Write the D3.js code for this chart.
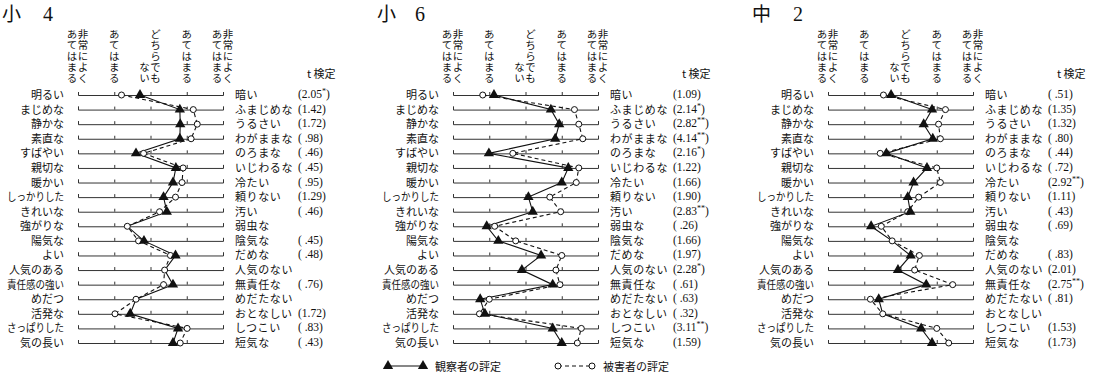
<!DOCTYPE html>
<html><head><meta charset="utf-8">
<script src="https://cdn.jsdelivr.net/npm/d3@7"></script>
<style>
body{margin:0;background:#fff}
svg text{font-family:"Liberation Serif","Noto Sans CJK JP",serif;fill:#111}
</style></head><body><svg id="chart" width="1108" height="380"></svg>
<script>
// Semantic differential profiles: observer vs. victim ratings, three grades
const leftAdj = ["明るい","まじめな","静かな","素直な","すばやい","親切な","暖かい","しっかりした","きれいな","強がりな","陽気な","よい","人気のある","責任感の強い","めだつ","活発な","さっぱりした","気の長い"];
const rightAdj = ["暗い","ふまじめな","うるさい","わがままな","のろまな","いじわるな","冷たい","頼りない","汚い","弱虫な","陰気な","だめな","人気のない","無責任な","めだたない","おとなしい","しつこい","短気な"];
const scaleLabels = ["非常によくあてはまる","あてはまる","どちらでもない","あてはまる","非常によくあてはまる"];
const scaleValues = [1,2,3,4,5];

const gradeNames = ["小","小","中"];
const gradeNums = ["4","6","2"];

// 観察者の評定
const observerG4 = [2.71,3.81,3.82,3.81,2.60,3.70,3.62,3.36,3.45,2.36,2.82,3.69,3.39,3.62,2.60,2.44,3.76,3.62];
const observerG6 = [2.13,3.70,3.93,3.82,1.99,4.18,4.00,3.08,3.20,1.93,2.25,3.43,2.90,3.75,1.75,1.88,3.75,4.00];
const observerJ2 = [2.74,3.87,3.64,3.89,2.61,3.73,3.36,3.20,3.27,2.19,2.77,3.28,2.93,3.71,2.40,2.51,3.57,3.87];
// 被害者の評定
const victimG4 = [2.20,4.18,4.29,4.12,2.81,3.90,3.87,3.69,3.25,2.36,2.67,3.55,3.39,3.36,2.60,2.02,4.01,3.82];
const victimG6 = [1.82,4.35,4.47,4.58,2.65,4.47,4.40,3.67,3.97,2.15,2.73,4.00,3.84,3.95,2.00,1.73,4.54,4.43];
const victimJ2 = [2.53,4.24,4.05,4.10,2.44,4.00,4.10,3.50,3.20,2.47,2.77,3.52,3.39,4.44,2.17,2.51,4.00,4.33];
// t 検定 (null = no test; both ratings share one point)
const tTestG4 = ["(2.05*)","(1.42)","(1.72)","( .98)","( .46)","( .45)","( .95)","(1.29)","( .46)",null,"( .45)","( .48)",null,"( .76)",null,"(1.72)","( .83)","( .43)"];
const tTestG6 = ["(1.09)","(2.14*)","(2.82**)","(4.14**)","(2.16*)","(1.22)","(1.66)","(1.90)","(2.83**)","( .26)","(1.66)","(1.97)","(2.28*)","( .61)","( .63)","( .32)","(3.11**)","(1.59)"];
const tTestJ2 = ["( .51)","(1.35)","(1.32)","( .80)","( .44)","( .72)","(2.92**)","(1.11)","( .43)","( .69)",null,"( .83)","(2.01)","(2.75**)","( .81)",null,"(1.53)","(1.73)"];

const observer = [observerG4, observerG6, observerJ2];
const victim = [victimG4, victimG6, victimJ2];
const tTests = [tTestG4, tTestG6, tTestJ2];

const svg = d3.select("#chart");
const ink = "#111";
const jp = "'Noto Sans CJK JP'";
const tri = d3.symbol().type(d3.symbolTriangle).size(46);

const y = d3.scalePoint().domain(leftAdj).range([95, 343]);

for (let p = 0; p < 3; p++) {
  const ox = 375 * p;
  const g = svg.append("g");
  const x = d3.scaleLinear().domain([1, 5]).range([ox + 78, ox + 223]);

  // grade title
  g.append("text").attr("x", ox + 2).attr("y", 21).attr("font-size", 19)
    .style("font-family", jp).text(gradeNames[p]);
  g.append("text").attr("x", ox + (p === 1 ? 40 : 43)).attr("y", 21).attr("font-size", 20)
    .text(gradeNums[p]);

  // vertical scale headings: columns of five, right column first, bottom aligned
  scaleLabels.forEach((lab, i) => {
    const cols = [];
    for (let k = 0; k < lab.length; k += 5) cols.push(lab.slice(k, k + 5));
    cols.forEach((col, c) => {
      const cx = cols.length === 1 ? x(scaleValues[i]) : x(scaleValues[i]) + (c === 0 ? 5 : -6);
      g.append("text").attr("x", cx).attr("y", 84)
        .attr("text-anchor", "end")
        .style("writing-mode", "vertical-rl")
        .attr("letter-spacing", 0.6)
        .attr("font-size", 10.5).style("font-family", jp).text(col);
    });
  });

  g.append("text").attr("x", ox + 307).attr("y", 78).attr("font-size", 11)
    .style("font-family", jp).text("t 検定");

  // row axes and labels
  leftAdj.forEach((adj, r) => {
    const row = g.append("g").attr("transform", `translate(0,${y(adj)})`)
      .call(d3.axisTop(x).tickValues(scaleValues).tickSize(3).tickSizeOuter(3).tickFormat(""));
    row.selectAll("path,line").attr("stroke", "#333").attr("stroke-width", 1);

    const lt = g.append("text").attr("x", ox + 64).attr("y", y(adj) - 1)
      .attr("text-anchor", "end").attr("dominant-baseline", "central")
      .attr("font-size", 11).style("font-family", jp).text(adj);
    if (adj.length > 5) lt.attr("textLength", 57).attr("lengthAdjust", "spacingAndGlyphs");

    g.append("text").attr("x", ox + 235).attr("y", y(adj) - 1)
      .attr("dominant-baseline", "central").attr("font-size", 11)
      .attr("letter-spacing", 0.6)
      .style("font-family", jp).text(rightAdj[r]);

    const tv = tTests[p][r];
    if (tv) {
      const m = tv.match(/^\((.*?)(\**)\)$/);
      const t = g.append("text").attr("x", ox + 298).attr("y", y(adj) - 1)
        .attr("dominant-baseline", "central").attr("font-size", 11.5)
        .style("white-space", "pre");
      t.append("tspan").text("(" + m[1]);
      if (m[2]) t.append("tspan").attr("font-size", 8).attr("dy", -3).text(m[2]);
      t.append("tspan").attr("dy", m[2] ? 3 : 0).text(")");
    }
  });

  const rows = leftAdj.map((adj, r) => ({ adj, o: observer[p][r], v: victim[p][r], t: tTests[p][r] }));

  const line = key => d3.line().x(d => x(d[key])).y(d => y(d.adj));
  g.append("path").datum(rows).attr("d", line("o"))
    .attr("fill", "none").attr("stroke", ink).attr("stroke-width", 1.1);
  g.append("path").datum(rows).attr("d", line("v"))
    .attr("fill", "none").attr("stroke", ink).attr("stroke-width", 1.1).attr("stroke-dasharray", "4,3");

  g.selectAll(".vic").data(rows).join("circle").attr("class", "vic")
    .attr("cx", d => x(d.v)).attr("cy", d => y(d.adj)).attr("r", 3)
    .attr("fill", "#fff").attr("stroke", ink).attr("stroke-width", 1);

  g.selectAll(".obs").data(rows.filter(d => d.t !== null)).join("path").attr("class", "obs")
    .attr("transform", d => `translate(${x(d.o)},${y(d.adj)})`)
    .attr("d", tri).attr("fill", ink);
}

// legend
const lg = svg.append("g").attr("transform", "translate(0,366)");
lg.append("line").attr("x1", 388).attr("x2", 423).attr("stroke", ink).attr("stroke-width", 1.1);
[388, 423].forEach(cx => lg.append("path").attr("transform", `translate(${cx},0)`).attr("d", tri).attr("fill", ink));
lg.append("text").attr("x", 435).attr("y", 0).attr("dominant-baseline", "central")
  .attr("font-size", 11).style("font-family", jp).text("観察者の評定");
lg.append("line").attr("x1", 558).attr("x2", 592).attr("stroke", ink).attr("stroke-width", 1.1).attr("stroke-dasharray", "4,3");
[558, 592].forEach(cx => lg.append("circle").attr("cx", cx).attr("cy", 0).attr("r", 3)
  .attr("fill", "#fff").attr("stroke", ink));
lg.append("text").attr("x", 603).attr("y", 0).attr("dominant-baseline", "central")
  .attr("font-size", 11).style("font-family", jp).text("被害者の評定");
</script></body></html>
